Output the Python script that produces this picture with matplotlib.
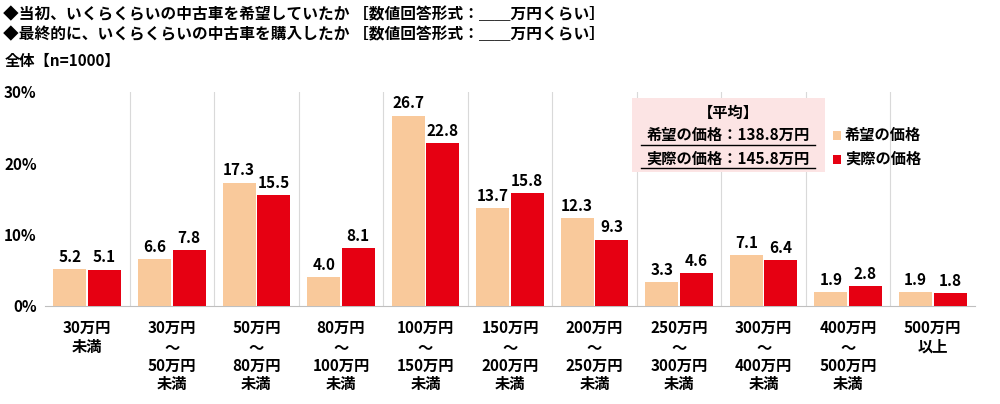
import matplotlib as mpl
import matplotlib.pyplot as plt
import numpy as np

mpl.rcParams["font.family"] = "Noto Sans CJK JP"

# ── DATA ────────────────────────────────────────────────────────────────────
CATEGORIES = ["30万円\n未満", "30万円\n～\n50万円\n未満", "50万円\n～\n80万円\n未満",
              "80万円\n～\n100万円\n未満", "100万円\n～\n150万円\n未満", "150万円\n～\n200万円\n未満",
              "200万円\n～\n250万円\n未満", "250万円\n～\n300万円\n未満", "300万円\n～\n400万円\n未満",
              "400万円\n～\n500万円\n未満", "500万円\n以上"]
HOPE = [5.2, 6.6, 17.3, 4.0, 26.7, 13.7, 12.3, 3.3, 7.1, 1.9, 1.9]
ACTUAL = [5.1, 7.8, 15.5, 8.1, 22.8, 15.8, 9.3, 4.6, 6.4, 2.8, 1.8]
SERIES_LABELS = ["希望の価格", "実際の価格"]
YTICKS = [0, 10, 20, 30]

# ── STYLE ───────────────────────────────────────────────────────────────────
C_HOPE = "#F9C99B"
C_ACT = "#E60012"
BW = 0.39
FS = 11

fig = plt.figure(figsize=(10, 4.04), dpi=100)
ax = fig.add_axes([0.045, 0.2426, 0.93, 0.5297])

x = np.arange(len(CATEGORIES))
ax.bar(x - BW / 2 - 0.01, HOPE, BW, color=C_HOPE, zorder=3, label=SERIES_LABELS[0])
ax.bar(x + BW / 2 + 0.01, ACTUAL, BW, color=C_ACT, zorder=3, label=SERIES_LABELS[1])

for xi, h, a in zip(x, HOPE, ACTUAL):
    ax.text(xi - BW / 2 - 0.01, h + 0.6, f"{h:.1f}", ha="center", va="bottom",
            fontsize=FS, fontweight="bold")
    ax.text(xi + BW / 2 + 0.01, a + 0.6, f"{a:.1f}", ha="center", va="bottom",
            fontsize=FS, fontweight="bold")

ax.set_xlim(-0.5, len(CATEGORIES) - 0.5)
ax.set_ylim(0, 30)
ax.set_yticks(YTICKS)
ax.set_yticklabels([f"{t}%" for t in YTICKS], fontsize=FS, fontweight="bold")
ax.set_xticks([])
for xb in np.arange(0.5, len(CATEGORIES) - 0.5, 1):
    ax.axvline(xb, color="#d9d9d9", lw=0.8, zorder=0)
for s in ["top", "right", "left"]:
    ax.spines[s].set_visible(False)
ax.spines["bottom"].set_color("#bfbfbf")
ax.tick_params(axis="y", length=0, pad=6)

for xi, lab in zip(x, CATEGORIES):
    ax.text(xi, -2.0, lab, ha="center", va="top", fontsize=FS, fontweight="bold",
            linespacing=1.2)

# titles
fig.text(0.003, 0.965, "◆当初、いくらくらいの中古車を希望していたか ［数値回答形式：＿＿万円くらい］",
         fontsize=11.3, fontweight="bold", va="center")
fig.text(0.003, 0.915, "◆最終的に、いくらくらいの中古車を購入したか ［数値回答形式：＿＿万円くらい］",
         fontsize=11.3, fontweight="bold", va="center")
fig.text(0.005, 0.85, "全体【n=1000】", fontsize=FS, fontweight="bold", va="center")

# average box
fig.patches.append(mpl.patches.Rectangle((0.632, 0.574), 0.193, 0.183, transform=fig.transFigure,
                                         facecolor="#FCE4E4", edgecolor="none", zorder=5))
fig.text(0.728, 0.72, "【平均】", ha="center", va="center", fontsize=FS, fontweight="bold", zorder=6)
fig.text(0.728, 0.665, "希望の価格：138.8万円", ha="center", va="center", fontsize=FS,
         fontweight="bold", zorder=6)
fig.text(0.728, 0.607, "実際の価格：145.8万円", ha="center", va="center", fontsize=FS,
         fontweight="bold", zorder=6)
for y in (0.642, 0.584):
    fig.lines.append(mpl.lines.Line2D([0.641, 0.815], [y, y], transform=fig.transFigure,
                                      color="black", lw=1, zorder=6))

# legend
for y, c, lab in ((0.665, C_HOPE, SERIES_LABELS[0]), (0.607, C_ACT, SERIES_LABELS[1])):
    fig.patches.append(mpl.patches.Rectangle((0.833, y - 0.012), 0.008, 0.022, transform=fig.transFigure,
                                             facecolor=c, edgecolor="none", zorder=6))
    fig.text(0.845, y, lab, va="center", fontsize=FS, fontweight="bold", zorder=6)

fig.savefig("out.png", dpi=100, facecolor="white")
